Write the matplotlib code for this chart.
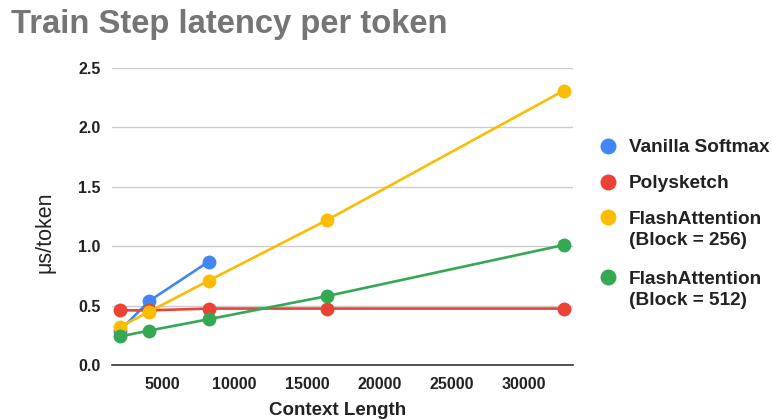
import matplotlib
matplotlib.use('Agg')
import matplotlib.pyplot as plt

plt.rcParams['font.family'] = ['Liberation Sans', 'DejaVu Sans']

# context lengths (tokens)
context_len = [2048, 4096, 8192, 16384, 32768]

# latency in us/token
vanilla = [0.29, 0.54, 0.87]
polysketch = [0.46, 0.46, 0.475, 0.475, 0.475]
flash_256 = [0.32, 0.45, 0.71, 1.22, 2.31]
flash_512 = [0.24, 0.29, 0.385, 0.58, 1.01]

series_names = ['Vanilla Softmax', 'Polysketch', 'FlashAttention\n(Block = 256)', 'FlashAttention\n(Block = 512)']
series_colors = ['#4285F4', '#EA4335', '#FBBC04', '#34A853']

x_ticks = [5000, 10000, 15000, 20000, 25000, 30000]
y_ticks = [0.0, 0.5, 1.0, 1.5, 2.0, 2.5]


def draw_legend(fig):
    # hand made legend so the dot sits on the first line of two-line labels
    H = 420.0
    rows_y = [146, 182, 217, 277]
    for name, col, py in zip(series_names, series_colors, rows_y):
        yf = 1 - py / H
        fig.add_artist(plt.Line2D([608 / 772.0], [yf], marker='o', markersize=11.5,
                                  markeredgewidth=0, color=col, linestyle='none',
                                  transform=fig.transFigure))
        for i, line in enumerate(name.split('\n')):
            fig.text(629 / 772.0, yf - i * 21.5 / H, line, fontsize=13.7, fontweight='bold',
                     color='#222222', va='center_baseline', ha='left')


def main():
    fig = plt.figure(figsize=(7.72, 4.2), dpi=100)
    ax = fig.add_axes([0.145, 0.131, 0.597, 0.707])

    all_series = [vanilla, polysketch, flash_256, flash_512]
    for vals, name, col in zip(all_series, series_names, series_colors):
        ax.plot(context_len[:len(vals)], vals, color=col, lw=1.9, marker='o',
                markersize=10, markeredgewidth=0, label=name, zorder=3)

    ax.set_xlim(1500, 33400)
    ax.set_ylim(0, 2.5)
    ax.set_xticks(x_ticks)
    ax.set_xticklabels([str(t) for t in x_ticks])
    ax.set_yticks(y_ticks)
    ax.set_yticklabels([f'{t:.1f}' for t in y_ticks])
    ax.tick_params(length=0, labelsize=11.5, colors='#222222')
    ax.tick_params(axis='x', pad=9)
    ax.tick_params(axis='y', pad=8)
    for lbl in ax.get_xticklabels() + ax.get_yticklabels():
        lbl.set_fontweight('bold')

    ax.grid(axis='y', color='#cccccc', lw=1)
    ax.set_axisbelow(True)
    for s in ['top', 'right', 'left']:
        ax.spines[s].set_visible(False)
    ax.spines['bottom'].set_color('#333333')
    ax.spines['bottom'].set_linewidth(1.2)

    ax.set_xlabel('Context Length', fontsize=13.5, fontweight='bold', color='#222222')
    ax.xaxis.set_label_coords(0.489, -0.126)
    ax.set_ylabel('μs/token', fontsize=15.5, color='#222222')
    ax.yaxis.set_label_coords(-0.122, 0.448)

    fig.text(0.014, 0.978, 'Train Step latency per token', fontsize=23.6, fontweight='bold',
             color='#757575', va='top', ha='left')

    draw_legend(fig)

    fig.savefig('out.png', dpi=100)


main()
